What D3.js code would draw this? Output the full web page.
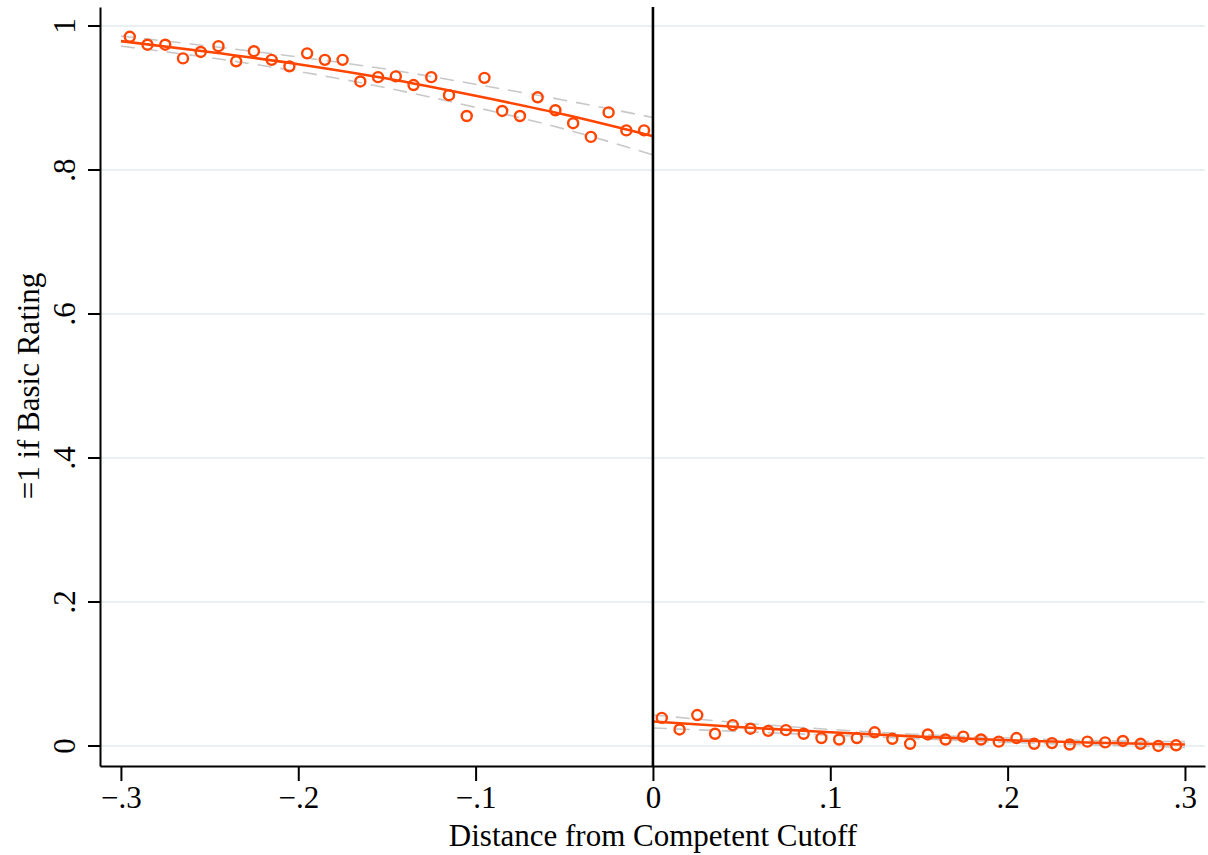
<!DOCTYPE html>
<html>
<head>
<meta charset="utf-8">
<script src="https://cdnjs.cloudflare.com/ajax/libs/d3/7.8.5/d3.min.js"></script>
<style>
  body { margin: 0; background: #fff; }
  svg text { font-family: "Liberation Serif", "Times New Roman", serif; fill: #000; }
</style>
</head>
<body>
<div id="chart"></div>
<script>
// binned means, left of cutoff
var binLeft = [-0.295, -0.285, -0.275, -0.265, -0.255, -0.245, -0.235, -0.225, -0.215, -0.205,
    -0.195, -0.185, -0.175, -0.165, -0.155, -0.145, -0.135, -0.125, -0.115, -0.105,
    -0.095, -0.085, -0.075, -0.065, -0.055, -0.045, -0.035, -0.025, -0.015, -0.005];
var meanLeft = [0.985, 0.974, 0.974, 0.955, 0.964, 0.972, 0.951, 0.965, 0.953, 0.944,
    0.962, 0.953, 0.953, 0.923, 0.929, 0.930, 0.918, 0.929, 0.904, 0.875,
    0.928, 0.882, 0.875, 0.901, 0.883, 0.865, 0.846, 0.880, 0.855, 0.855];

// binned means, right of cutoff
var binRight = [0.005, 0.015, 0.025, 0.035, 0.045, 0.055, 0.065, 0.075, 0.085, 0.095,
    0.105, 0.115, 0.125, 0.135, 0.145, 0.155, 0.165, 0.175, 0.185, 0.195,
    0.205, 0.215, 0.225, 0.235, 0.245, 0.255, 0.265, 0.275, 0.285, 0.295];
var meanRight = [0.039, 0.023, 0.043, 0.017, 0.029, 0.024, 0.021, 0.022, 0.017, 0.011,
    0.009, 0.011, 0.019, 0.010, 0.003, 0.016, 0.009, 0.013, 0.009, 0.006,
    0.011, 0.003, 0.004, 0.002, 0.006, 0.005, 0.007, 0.003, 0.000, 0.001];

// fitted lines and confidence bands
var fitXLeft = [-0.3, -0.25, -0.2, -0.15, -0.1, -0.05, 0];
var fitLeft = [0.979, 0.964, 0.947, 0.927, 0.903, 0.877, 0.847];
var ciHiLeft = [0.986, 0.972, 0.957, 0.940, 0.919, 0.897, 0.873];
var ciLoLeft = [0.972, 0.956, 0.937, 0.914, 0.887, 0.857, 0.821];

var fitXRight = [0, 0.05, 0.1, 0.15, 0.2, 0.25, 0.3];
var fitRight = [0.034, 0.026, 0.019, 0.013, 0.008, 0.0045, 0.002];
var ciHiRight = [0.043, 0.032, 0.023, 0.016, 0.011, 0.0075, 0.006];
var ciLoRight = [0.025, 0.020, 0.015, 0.010, 0.005, 0.0015, -0.002];

var xTicks = [-0.3, -0.2, -0.1, 0, 0.1, 0.2, 0.3];
var xTickLabels = ["\u2212.3", "\u2212.2", "\u2212.1", "0", ".1", ".2", ".3"];
var yTicks = [0, 0.2, 0.4, 0.6, 0.8, 1];
var yTickLabels = ["0", ".2", ".4", ".6", ".8", "1"];

var svgWidth = 1208;
var svgHeight = 855;
var orange = "#ff4500";
var fontSize = 31;

var svg = d3.select("#chart")
    .append("svg")
    .attr("width", svgWidth)
    .attr("height", svgHeight);

var xScale = d3.scaleLinear()
    .domain([-0.3118, 0.3113])
    .range([100, 1205]);

var yScale = d3.scaleLinear()
    .domain([-0.0278, 1.0264])
    .range([766, 7]);

// gridlines
svg.append("g")
    .selectAll("line")
    .data(yTicks)
    .enter()
    .append("line")
    .attr("x1", 101)
    .attr("x2", 1205)
    .attr("y1", d => yScale(d))
    .attr("y2", d => yScale(d))
    .attr("stroke", "#e8f0f2")
    .attr("stroke-width", 2);

// axes
var bottomAxis = d3.axisBottom(xScale)
    .tickValues(xTicks)
    .tickFormat((d, i) => xTickLabels[i])
    .tickSizeInner(15)
    .tickSizeOuter(0)
    .tickPadding(5);

var leftAxis = d3.axisLeft(yScale)
    .tickValues(yTicks)
    .tickFormat((d, i) => yTickLabels[i])
    .tickSizeInner(12)
    .tickSizeOuter(0);

var xAxisG = svg.append("g")
    .attr("transform", "translate(0, 766)")
    .call(bottomAxis);
xAxisG.selectAll("path, line").attr("stroke", "#000").attr("stroke-width", 2);
xAxisG.selectAll("text")
    .attr("font-size", fontSize)
    .style("font-family", "Liberation Serif, serif");

var yAxisG = svg.append("g")
    .attr("transform", "translate(100, 0)")
    .call(leftAxis);
yAxisG.selectAll("path, line").attr("stroke", "#000").attr("stroke-width", 2);

// rotated y tick labels, drawn in place of the default ones
yAxisG.selectAll(".tick")
    .attr("transform", null);
yAxisG.selectAll(".tick line")
    .attr("y1", d => yScale(d))
    .attr("y2", d => yScale(d));
yAxisG.selectAll(".tick text")
    .attr("font-size", fontSize)
    .style("font-family", "Liberation Serif, serif")
    .attr("text-anchor", "middle")
    .attr("dy", null)
    .attr("x", 0)
    .attr("y", 0)
    .attr("transform", d => `translate(-25, ${yScale(d)}) rotate(-90)`);

// confidence bands
var line = d3.line()
    .x(d => xScale(d[0]))
    .y(d => yScale(d[1]))
    .curve(d3.curveMonotoneX);

function drawSeg(xs, ys, stroke, width, dash) {
    svg.append("path")
        .datum(xs.map((x, i) => [x, ys[i]]))
        .attr("d", line)
        .attr("fill", "none")
        .attr("stroke", stroke)
        .attr("stroke-width", width)
        .attr("stroke-dasharray", dash);
}

drawSeg(fitXLeft, ciHiLeft, "#c8c8c8", 1.6, "14,9");
drawSeg(fitXLeft, ciLoLeft, "#c8c8c8", 1.6, "14,9");
drawSeg(fitXRight, ciHiRight, "#c8c8c8", 1.6, "14,9");
drawSeg(fitXRight, ciLoRight, "#c8c8c8", 1.6, "14,9");

// fitted lines
drawSeg(fitXLeft, fitLeft, orange, 2.6, null);
drawSeg(fitXRight, fitRight, orange, 2.6, null);

// cutoff line
svg.append("line")
    .attr("x1", xScale(0))
    .attr("x2", xScale(0))
    .attr("y1", 7)
    .attr("y2", 766)
    .attr("stroke", "#000")
    .attr("stroke-width", 2.6);

// bin means
var pts = binLeft.map((x, i) => [x, meanLeft[i]])
    .concat(binRight.map((x, i) => [x, meanRight[i]]));

svg.append("g")
    .selectAll("circle")
    .data(pts)
    .enter()
    .append("circle")
    .attr("cx", d => xScale(d[0]))
    .attr("cy", d => yScale(d[1]))
    .attr("r", 5)
    .attr("fill", "none")
    .attr("stroke", orange)
    .attr("stroke-width", 2.4);

// axis labels
svg.append("text")
    .attr("x", 653)
    .attr("y", 846)
    .attr("text-anchor", "middle")
    .attr("font-size", fontSize)
    .text("Distance from Competent Cutoff");

svg.append("text")
    .attr("transform", "translate(39, 386) rotate(-90)")
    .attr("text-anchor", "middle")
    .attr("font-size", fontSize)
    .text("=1 if Basic Rating");
</script>
</body>
</html>
